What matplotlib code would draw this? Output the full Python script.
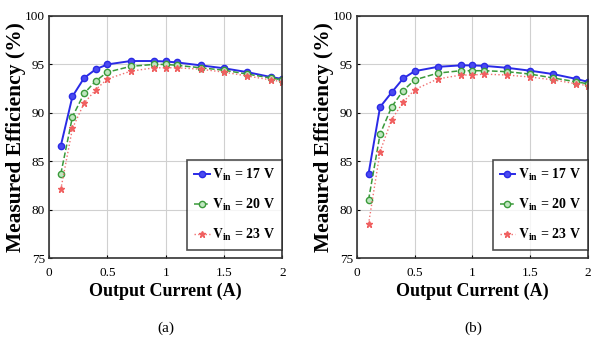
import matplotlib
matplotlib.use("Agg")
import matplotlib.pyplot as plt

plt.rcParams["font.family"] = ["Liberation Serif", "DejaVu Serif"]
plt.rcParams["mathtext.fontset"] = "stix"

# output current (A)
current = [0.1, 0.2, 0.3, 0.4, 0.5, 0.7, 0.9, 1.0, 1.1, 1.3, 1.5, 1.7, 1.9, 2.0]

# panel (a) measured efficiency (%)
eff_a_17 = [86.6, 91.7, 93.6, 94.5, 95.0, 95.35, 95.35, 95.3, 95.2, 94.9, 94.6, 94.2, 93.7, 93.5]
eff_a_20 = [83.7, 89.6, 92.0, 93.3, 94.2, 94.8, 95.0, 95.0, 94.9, 94.65, 94.4, 94.0, 93.6, 93.4]
eff_a_23 = [82.1, 88.4, 91.0, 92.4, 93.5, 94.3, 94.65, 94.65, 94.65, 94.5, 94.2, 93.8, 93.4, 93.2]

# panel (b)
eff_b_17 = [83.7, 90.6, 92.1, 93.55, 94.3, 94.75, 94.9, 94.9, 94.85, 94.65, 94.35, 94.0, 93.5, 93.2]
eff_b_20 = [81.0, 87.8, 90.6, 92.3, 93.4, 94.1, 94.35, 94.35, 94.35, 94.25, 94.0, 93.6, 93.2, 93.0]
eff_b_23 = [78.5, 86.0, 89.3, 91.1, 92.4, 93.5, 93.9, 93.9, 94.0, 93.9, 93.7, 93.4, 93.0, 92.8]

labels = [r"$\mathbf{V_{in}}$ = 17 V", r"$\mathbf{V_{in}}$ = 20 V", r"$\mathbf{V_{in}}$ = 23 V"]
xticks = [0, 0.5, 1, 1.5, 2]
xticklabels = ["0", "0.5", "1", "1.5", "2"]
yticks = [75, 80, 85, 90, 95, 100]

fig = plt.figure(figsize=(5.92, 3.47), dpi=100)
ax_a = fig.add_axes([0.083, 0.256, 0.394, 0.698])
ax_b = fig.add_axes([0.603, 0.256, 0.390, 0.698])

for ax, series, tag, tx in [(ax_a, (eff_a_17, eff_a_20, eff_a_23), "(a)", 0.28),
                            (ax_b, (eff_b_17, eff_b_20, eff_b_23), "(b)", 0.80)]:
    s17, s20, s23 = series
    ax.plot(current, s17, "-o", color="#2a2ae6", lw=1.4, ms=4.5, mfc="#4a4af0",
            mec="#2a2ae6", label=labels[0])
    ax.plot(current, s20, "--o", color="#3a9a3a", lw=1.1, ms=4.5, mfc="#bfe6bf",
            mec="#3a9a3a", label=labels[1])
    ax.plot(current, s23, ":*", color="#f07070", lw=1.0, ms=4.5, mfc="#f06060",
            mec="#f06060", label=labels[2])
    ax.set_xlim(0, 2)
    ax.set_ylim(75, 100)
    ax.set_xticks(xticks)
    ax.set_xticklabels(xticklabels)
    ax.set_yticks(yticks)
    ax.tick_params(labelsize=9.5, length=2, direction="in", pad=3)
    ax.tick_params(axis="x", pad=6)
    ax.grid(True, color="#d0d0d0", lw=0.8)
    for sp in ax.spines.values():
        sp.set_color("#333333")
        sp.set_linewidth(1.2)
    ax.set_xlabel("Output Current (A)", fontsize=13, fontweight="bold", labelpad=3)
    ax.set_ylabel("Measured Efficiency (%)", fontsize=15.5, fontweight="bold", labelpad=-1)
    leg = ax.legend(loc="lower right", bbox_to_anchor=(1.0, 0.035), frameon=True,
                    fancybox=False, borderaxespad=0.0, handlelength=1.1,
                    handletextpad=0.2, labelspacing=1.0, borderpad=0.5,
                    prop={"weight": "bold", "size": 10})
    leg.get_frame().set_edgecolor("#222222")
    leg.get_frame().set_linewidth(1.2)
    fig.text(tx, 0.055, tag, ha="center", va="center", fontsize=11)

fig.savefig("out.png", dpi=100)
